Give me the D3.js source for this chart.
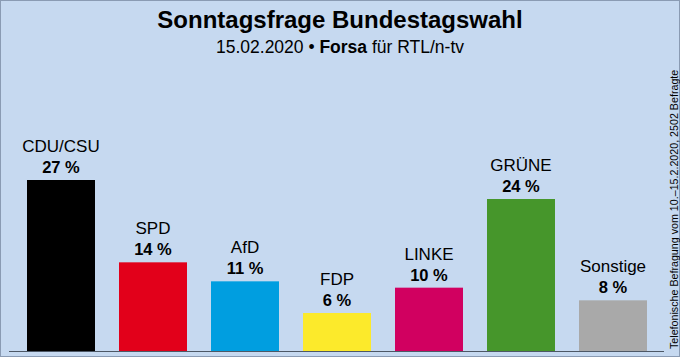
<!DOCTYPE html>
<html><head><meta charset="utf-8">
<script src="https://cdn.jsdelivr.net/npm/d3@7"></script>
<style>html,body{margin:0;padding:0;background:#c6d9f0;}svg{display:block;font-family:"Liberation Sans",Arial,sans-serif;}</style>
</head><body>
<script>
const parties = ["CDU/CSU","SPD","AfD","FDP","LINKE","GRÜNE","Sonstige"];
const values = [27,14,11,6,10,24,8];
const colors = ["#000000","#e2001a","#009ee0","#fcea2b","#d10060","#46962b","#a9a9a9"];
const title = "Sonntagsfrage Bundestagswahl";
const note = "Telefonische Befragung vom 10.–15.2.2020, 2502 Befragte";

const W=680,H=357;
const svg=d3.select("body").append("svg").attr("width",W).attr("height",H);
svg.append("rect").attr("x",0.5).attr("y",0.5).attr("width",W-1).attr("height",H-1)
  .attr("fill","#c6d9f0").attr("stroke","#8a9bb3");

const x=d3.scaleBand().domain(parties).range([15,659]).paddingInner(24/92).paddingOuter(12/92);
const y=d3.scaleLinear().domain([0,27]).range([351,180]);

svg.append("text").attr("x",340).attr("y",28).attr("text-anchor","middle")
  .attr("font-size",24).attr("font-weight","bold").text(title);
const st=svg.append("text").attr("x",340).attr("y",53).attr("text-anchor","middle").attr("font-size",17.5);
st.append("tspan").text("15.02.2020 • ");
st.append("tspan").attr("font-weight","bold").text("Forsa");
st.append("tspan").text(" für RTL/n-tv");

const g=svg.append("g");
g.selectAll("rect").data(parties).join("rect")
  .attr("x",d=>x(d)).attr("width",x.bandwidth())
  .attr("y",(d,i)=>y(values[i])).attr("height",(d,i)=>y(0)-y(values[i]))
  .attr("fill",(d,i)=>colors[i]);

g.selectAll("text.name").data(parties).join("text").attr("class","name")
  .attr("x",d=>x(d)+x.bandwidth()/2).attr("y",(d,i)=>y(values[i])-28)
  .attr("text-anchor","middle").attr("font-size",17).text(d=>d);
g.selectAll("text.val").data(parties).join("text").attr("class","val")
  .attr("x",d=>x(d)+x.bandwidth()/2).attr("y",(d,i)=>y(values[i])-7)
  .attr("text-anchor","middle").attr("font-size",16.5).attr("font-weight","bold")
  .text((d,i)=>values[i]+" %");

svg.append("line").attr("x1",9).attr("x2",664).attr("y1",351.5).attr("y2",351.5)
  .attr("stroke","#4d5866").attr("stroke-width",1);

svg.append("text").attr("transform","translate(678,349) rotate(-90)")
  .attr("font-size",10.7).text(note);
</script>
</body></html>
